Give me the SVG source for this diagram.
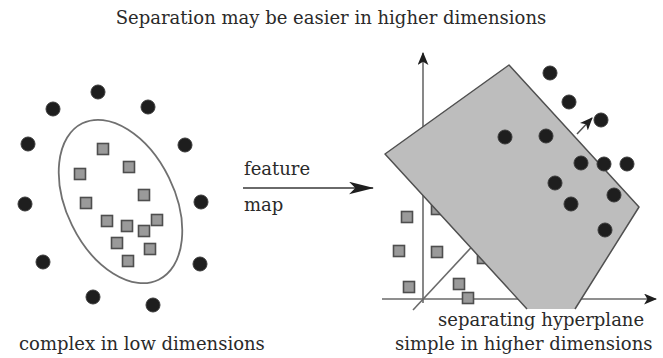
<svg xmlns="http://www.w3.org/2000/svg" width="663" height="358" viewBox="0 0 663 358">
  <style>
    .lbl { font-family: "DejaVu Serif", "Liberation Serif", serif; font-size: 18px; fill: #2a2a2a; }
    .dot { fill: #1e1e1e; stroke: #3a3a3a; stroke-width: 1; }
    .sq { fill: #9a9a9a; stroke: #4e4e4e; stroke-width: 1.6; }
    .axis { stroke: #6a6a6a; stroke-width: 1.6; fill: none; }
    .plane { fill: #bdbdbd; stroke: none; }
    .edge { fill: none; stroke: #505050; stroke-width: 1.5; stroke-linejoin: round; }
  </style>
  <defs>
    <marker id="head" viewBox="0 0 12 10" refX="11" refY="5" markerUnits="userSpaceOnUse" markerWidth="13" markerHeight="11" orient="auto">
      <path d="M0,0 L12,5 L0,10 L3,5 Z" fill="#1e1e1e"/>
    </marker>
    <marker id="bighead" viewBox="0 0 24 12" refX="23" refY="6" markerUnits="userSpaceOnUse" markerWidth="25" markerHeight="13" orient="auto">
      <path d="M0,0 L24,6 L0,12 L6,6 Z" fill="#1e1e1e"/>
    </marker>
    <rect id="sqr" x="-5.5" y="-5.5" width="11" height="11"/>
  </defs>

  <rect width="663" height="358" fill="#ffffff"/>

  <!-- captions -->
  <g id="title">
    <text class="lbl" x="331" y="24" text-anchor="middle">Separation may be easier in higher dimensions</text>
  </g>
  <g id="caption-left">
    <text class="lbl" x="19" y="350">complex in low dimensions</text>
  </g>
  <g id="caption-right">
    <text class="lbl" x="438" y="326">separating hyperplane</text>
    <text class="lbl" x="395" y="350">simple in higher dimensions</text>
  </g>

  <!-- low-dimensional data: ring of dots around a cluster of squares -->
  <g id="low-dim">
    <ellipse cx="120.5" cy="201.5" rx="54" ry="87" transform="rotate(-26 120.5 201.5)" fill="none" stroke="#707070" stroke-width="1.8"/>
    <g class="sq">
      <use href="#sqr" x="103" y="149"/>
      <use href="#sqr" x="129" y="167"/>
      <use href="#sqr" x="80" y="174"/>
      <use href="#sqr" x="144" y="195"/>
      <use href="#sqr" x="86" y="203"/>
      <use href="#sqr" x="107" y="221"/>
      <use href="#sqr" x="157" y="220"/>
      <use href="#sqr" x="127" y="226"/>
      <use href="#sqr" x="144" y="231"/>
      <use href="#sqr" x="117" y="243"/>
      <use href="#sqr" x="150" y="249"/>
      <use href="#sqr" x="128" y="261"/>
    </g>
    <g class="dot">
      <circle cx="98" cy="92" r="7"/>
      <circle cx="53" cy="109" r="7"/>
      <circle cx="148" cy="107" r="7"/>
      <circle cx="28" cy="144" r="7"/>
      <circle cx="185" cy="145" r="7"/>
      <circle cx="25" cy="204" r="7"/>
      <circle cx="201" cy="202" r="7"/>
      <circle cx="43" cy="262" r="7"/>
      <circle cx="200" cy="264" r="7"/>
      <circle cx="93" cy="297" r="7"/>
      <circle cx="153" cy="305" r="7"/>
    </g>
  </g>

  <!-- feature map connector -->
  <g id="connectors">
    <line x1="243" y1="188" x2="373" y2="188" stroke="#6a6a6a" stroke-width="2.2" marker-end="url(#bighead)"/>
    <text class="lbl" x="244" y="175">feature</text>
    <text class="lbl" x="244" y="211">map</text>
  </g>

  <!-- high-dimensional data with separating hyperplane -->
  <g id="high-dim">
    <line class="axis" x1="423" y1="303" x2="423" y2="53" marker-end="url(#head)"/>
    <line class="axis" x1="382" y1="299" x2="656" y2="299" marker-end="url(#head)"/>
    <line class="axis" x1="413" y1="310" x2="480" y2="238"/>
    <g class="sq">
      <use href="#sqr" x="407" y="217"/>
      <use href="#sqr" x="399" y="251"/>
      <use href="#sqr" x="409" y="287"/>
      <use href="#sqr" x="437" y="252"/>
      <use href="#sqr" x="437" y="209"/>
      <use href="#sqr" x="459" y="284"/>
      <use href="#sqr" x="468" y="298"/>
      <use href="#sqr" x="483" y="258"/>
    </g>
    <polygon class="plane" points="385,154 509,65 639,207 575,309 527,309"/>
    <polyline class="edge" points="527,309 385,154 509,65 639,207 575,309"/>
    <g class="dot">
      <circle cx="550" cy="73" r="7"/>
      <circle cx="569" cy="102" r="7"/>
      <circle cx="601" cy="120" r="7"/>
      <circle cx="505" cy="137" r="7"/>
      <circle cx="546" cy="136" r="7"/>
      <circle cx="581" cy="163" r="7"/>
      <circle cx="604" cy="164" r="7"/>
      <circle cx="627" cy="164" r="7"/>
      <circle cx="555" cy="183" r="7"/>
      <circle cx="614" cy="195" r="7"/>
      <circle cx="571" cy="204" r="7"/>
      <circle cx="605" cy="230" r="7"/>
    </g>
    <line x1="577" y1="134" x2="592" y2="118" stroke="#505050" stroke-width="1.5" marker-end="url(#head)"/>
  </g>
</svg>
